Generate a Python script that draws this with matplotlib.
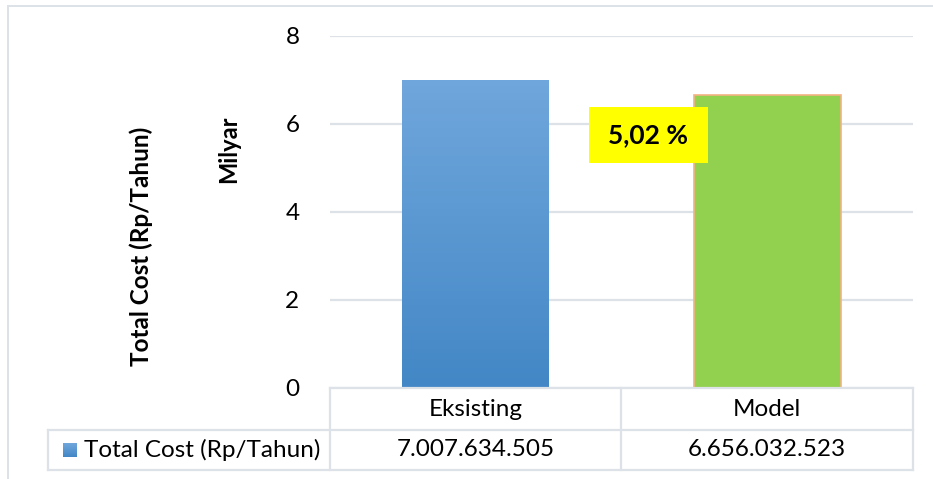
import numpy as np
import matplotlib.pyplot as plt
from matplotlib.lines import Line2D
from matplotlib.patches import Rectangle
from matplotlib.colors import LinearSegmentedColormap

# Data
kategori = ['Eksisting', 'Model']
total_cost = [7007634505, 6656032523]  # Rp/Tahun
seri = 'Total Cost (Rp/Tahun)'
yticks = [0, 2, 4, 6, 8]

nilai_milyar = [v / 1e9 for v in total_cost]
selisih = (total_cost[0] - total_cost[1]) / total_cost[0] * 100

plt.rcParams['font.family'] = ['Lato', 'DejaVu Sans']

W, H = 933, 479
fig = plt.figure(figsize=(W / 100, H / 100), dpi=100)

def fx(px):
    return px / W

def fy(py):
    return 1 - py / H

ax = fig.add_axes([fx(330), fy(388), fx(913) - fx(330), fy(36) - fy(388)])
ax.set_xlim(-0.5, 1.5)
ax.set_ylim(0, 8)
ax.set_yticks(yticks)
ax.set_yticklabels([str(t) for t in yticks], fontsize=17.5)
ax.tick_params(axis='y', length=0, pad=22)
ax.set_xticks([])
for s in ax.spines.values():
    s.set_visible(False)
ax.grid(axis='y', color='#DDE1E8', linewidth=1.6)
ax.set_axisbelow(True)

warna = ['#5B9BD5', '#92D050']
bars = ax.bar(range(len(kategori)), nilai_milyar, width=0.504, color=warna, zorder=2)
bars[1].set_edgecolor('#F4B183')
bars[1].set_linewidth(1.2)

# gradasi biru untuk batang Eksisting
grad = LinearSegmentedColormap.from_list('biru', ['#4387C6', '#70A7DC'])
b0 = bars[0]
b0.set_facecolor('none')
img = ax.imshow(np.linspace(0, 1, 256).reshape(-1, 1), cmap=grad, origin='lower',
                extent=[b0.get_x(), b0.get_x() + b0.get_width(), 0, b0.get_height()],
                aspect='auto', zorder=2)
img.set_clip_path(b0)
ax.set_xlim(-0.5, 1.5)
ax.set_ylim(0, 8)

# label persentase
fig.patches.append(Rectangle((fx(589), fy(163)), fx(708) - fx(589), fy(107) - fy(163),
                             transform=fig.transFigure, facecolor='#FFFF00', edgecolor='none', zorder=5))
fig.text(fx(648.5), fy(135), f'{selisih:.2f} %'.replace('.', ','), fontsize=19, fontweight='bold',
         ha='center', va='center', zorder=6)

# judul sumbu
fig.text(fx(141), fy(246), seri, rotation=90, fontsize=17.5, fontweight='bold', ha='center', va='center')
fig.text(fx(229), fy(149), 'Milyar', rotation=90, fontsize=17, fontweight='bold', ha='center', va='center')

# tabel data
garis = '#DDE1E8'
def hline(x0, x1, y):
    fig.add_artist(Line2D([fx(x0), fx(x1)], [fy(y), fy(y)], color=garis, linewidth=1.6))

def vline(x, y0, y1):
    fig.add_artist(Line2D([fx(x), fx(x)], [fy(y0), fy(y1)], color=garis, linewidth=1.6))

kolom = [330, 621, 913]
hline(330, 913, 388)
hline(48, 913, 430)
hline(48, 913, 470)
vline(48, 430, 470)
for x in kolom:
    vline(x, 388, 470)

for i, (k, v) in enumerate(zip(kategori, total_cost)):
    xc = (kolom[i] + kolom[i + 1]) / 2
    fig.text(fx(xc), fy(410), k, fontsize=17.5, ha='center', va='center')
    fig.text(fx(xc), fy(450), f'{v:,}'.replace(',', '.'), fontsize=17.5, ha='center', va='center')

# kotak legenda
lx0, ly0, ls = 63, 443, 14
lg = fig.add_axes([fx(lx0), fy(ly0 + ls), fx(ls), fy(0) - fy(ls)])
lg.imshow(np.linspace(0, 1, 64).reshape(-1, 1), cmap=grad, origin='lower', aspect='auto')
lg.axis('off')
fig.text(fx(84), fy(450), seri, fontsize=17.5, ha='left', va='center')

# bingkai luar
fig.add_artist(Line2D([fx(8), fx(8)], [fy(6), 0], color=garis, linewidth=1.4))
fig.add_artist(Line2D([fx(8), 1], [fy(6), fy(6)], color=garis, linewidth=1.4))

fig.savefig('out.png', dpi=100)
